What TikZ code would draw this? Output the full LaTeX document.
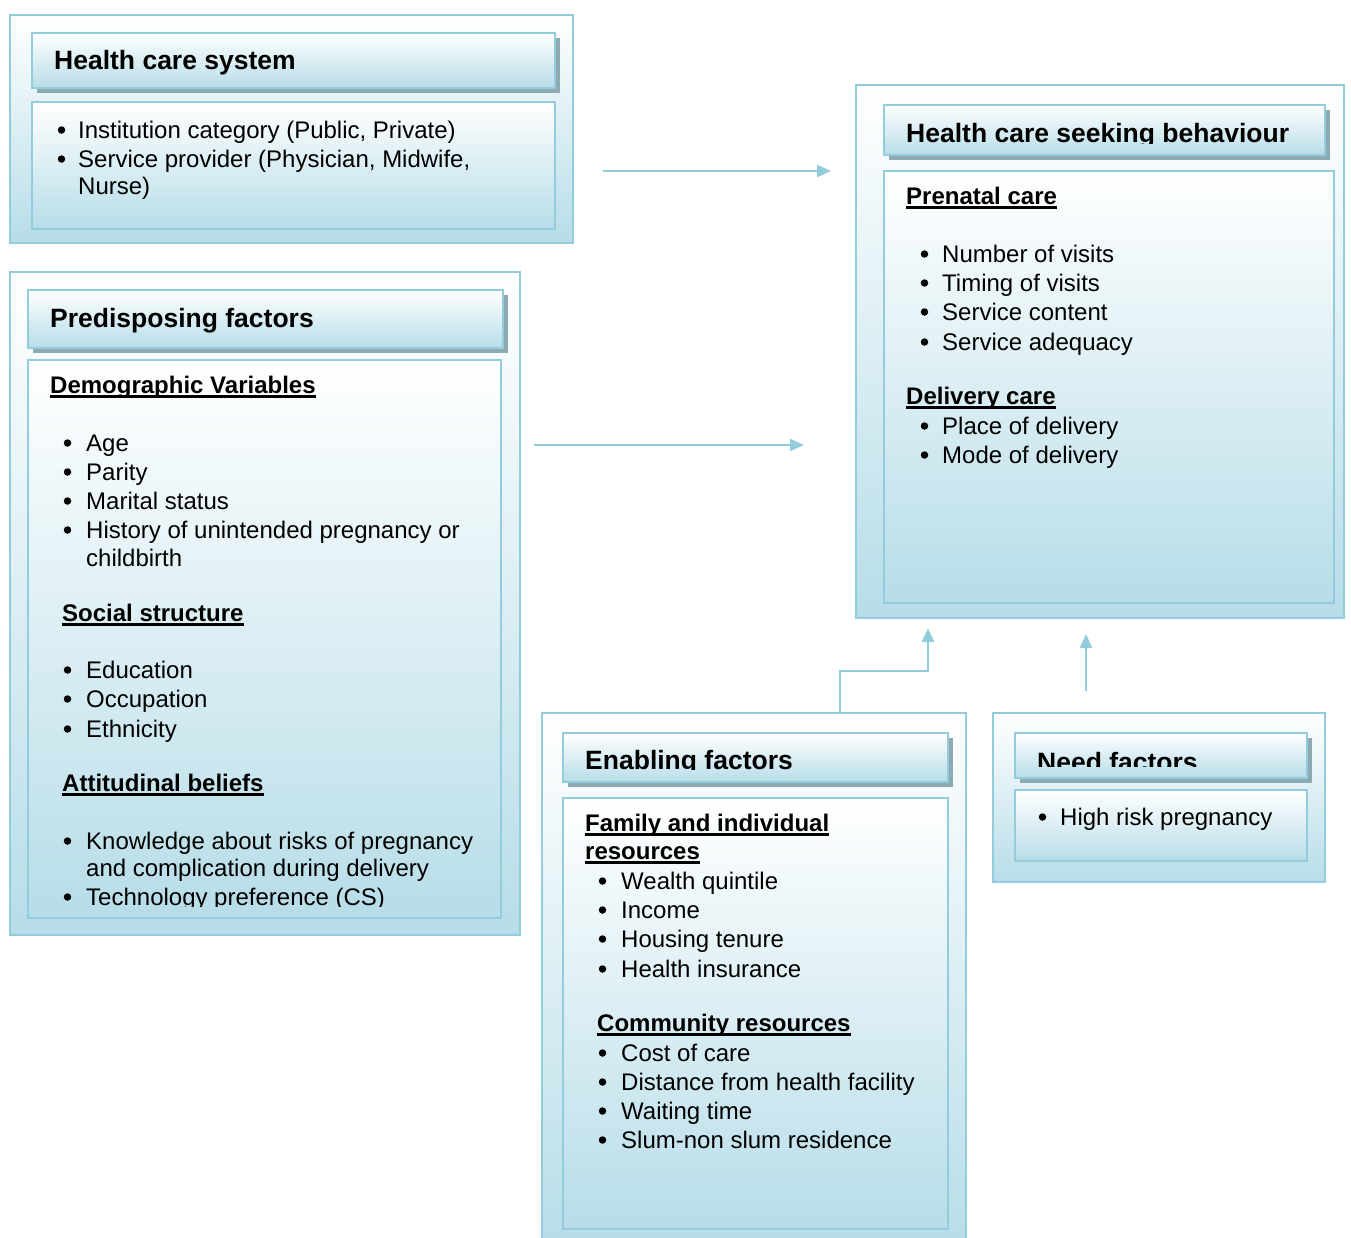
\documentclass[tikz,border=0pt]{standalone}
\usepackage{fontspec}
\setmainfont{Liberation Sans}
\usetikzlibrary{arrows.meta,shadows}
\definecolor{bordc}{HTML}{93CDDD}
\definecolor{gradc}{HTML}{B7DDE8}
\definecolor{shadc}{HTML}{8DA9B2}
\definecolor{arrc}{HTML}{93CDDD}
\newcommand\bodyfont{\fontsize{24}{29}\selectfont}
\newcommand\headfont{\fontsize{26.5}{32}\selectfont\bfseries}
\newcommand\myul[1]{\setbox0\hbox{#1}\rlap{\rule[-5pt]{\wd0}{3pt}}\box0}
\newcommand\bul[5]{\node[bulsty] (#1b) at (#2,#4) {}; \node[txt] (#1) at (#3,#4) {#5};}
\begin{document}
\begin{tikzpicture}[x=1pt,y=-1pt,
  outerbox/.style={draw=bordc,line width=2.5pt,top color=white,bottom color=gradc,inner sep=0,outer sep=0},
  innerbox/.style={draw=bordc,line width=2.5pt,top color=white,bottom color=gradc,inner sep=0,outer sep=0},
  titlebox/.style={draw=bordc,line width=2.5pt,top color=white,bottom color=gradc,inner sep=0,outer sep=0,
     drop shadow={shadow xshift=5pt,shadow yshift=-5pt,fill=shadc,opacity=1}},
  txt/.style={anchor=base west,inner sep=0,font=\bodyfont},
  bulsty/.style={circle,fill=black,inner sep=0,minimum size=7.5pt,xshift=4.5pt,yshift=8pt},
  head/.style={anchor=base west,inner sep=0,font=\headfont},
  sub/.style={anchor=base west,inner sep=0,font=\bodyfont\bfseries},
  conn/.style={draw=arrc,line width=2.5pt,-{Triangle[length=14pt,width=12pt]}}]
\clip (0,0) rectangle (1351,1237);
\fill[white] (0,0) rectangle (1351,1237);

% ---------- Health care system ----------
\node[outerbox,minimum width=563pt,minimum height=228pt] (hcs) at (291.5,129) {};
\node[titlebox,minimum width=523pt,minimum height=55pt] (hcstbox) at (293.5,60.5) {};
\node[innerbox,minimum width=523pt,minimum height=127pt] (hcsc) at (293.5,165.5) {};
\node[head] (hcst) at (54,69) {Health care system};
\bul{h1}{57}{78}{138}{Institution category (Public, Private)}
\bul{h2}{57}{78}{167}{Service provider (Physician, Midwife,}
\node[txt] (h3) at (78,194) {Nurse)};

% ---------- Predisposing factors ----------
\node[outerbox,minimum width=510pt,minimum height=663pt] (pre) at (265,603.5) {};
\node[titlebox,minimum width=475pt,minimum height=58pt] (pretbox) at (265.5,319) {};
\node[innerbox,minimum width=473pt,minimum height=558pt] (prec) at (264.5,639) {};
\node[head] (pret) at (50,327) {Predisposing factors};
\node[sub] (demo) at (50,393) {\myul{Demographic Variables}};
\bul{p1}{63}{86}{451}{Age}
\bul{p2}{63}{86}{480}{Parity}
\bul{p3}{63}{86}{509}{Marital status}
\bul{p4}{63}{86}{538}{History of unintended pregnancy or}
\node[txt] (p4b2) at (86,566) {childbirth};
\node[sub] (soc) at (62,621) {\myul{Social structure}};
\bul{p5}{63}{86}{678}{Education}
\bul{p6}{63}{86}{707}{Occupation}
\bul{p7}{63}{86}{737}{Ethnicity}
\node[sub] (att) at (62,791) {\myul{Attitudinal beliefs}};
\bul{p8}{63}{86}{849}{Knowledge about risks of pregnancy}
\node[txt] (p8b2) at (86,876) {and complication during delivery};
\begin{scope}
\clip (28,880) rectangle (501,906);
\bul{p9}{63}{86}{905}{Technology preference (CS)}
\end{scope}

% ---------- Health care seeking behaviour ----------
\node[outerbox,minimum width=488pt,minimum height=533pt] (hcsb) at (1100,351.5) {};
\node[titlebox,minimum width=441pt,minimum height=50pt] (hcsbtbox) at (1104.5,130) {};
\node[innerbox,minimum width=450pt,minimum height=432pt] (hcsbc) at (1109,387) {};
\begin{scope}
\clip (884,105) rectangle (1325,143);
\node[head] (hcsbt) at (906,142) {Health care seeking behaviour};
\end{scope}
\node[sub] (pren) at (906,204) {\myul{Prenatal care}};
\bul{s1}{920}{942}{262}{Number of visits}
\bul{s2}{920}{942}{291}{Timing of visits}
\bul{s3}{920}{942}{320}{Service content}
\bul{s4}{920}{942}{350}{Service adequacy}
\node[sub] (deliv) at (906,404) {\myul{Delivery care}};
\bul{s5}{920}{942}{434}{Place of delivery}
\bul{s6}{920}{942}{463}{Mode of delivery}

% ---------- Enabling factors ----------
\node[outerbox,minimum width=424pt,minimum height=537pt] (enab) at (754,981.5) {};
\node[titlebox,minimum width=385pt,minimum height=49pt] (enabtbox) at (755.5,757.5) {};
\node[innerbox,minimum width=385pt,minimum height=431pt] (enabc) at (755.5,1013.5) {};
\begin{scope}
\clip (563,733) rectangle (948,769);
\node[head] (enabt) at (585,769) {Enabling factors};
\end{scope}
\node[sub] (fam1) at (585,831) {\myul{Family and individual}};
\node[sub] (fam2) at (585,859) {\myul{resources}};
\bul{e1}{598}{621}{889}{Wealth quintile}
\bul{e2}{598}{621}{918}{Income}
\bul{e3}{598}{621}{947}{Housing tenure}
\bul{e4}{598}{621}{977}{Health insurance}
\node[sub] (comm) at (597,1031) {\myul{Community resources}};
\bul{e5}{598}{621}{1061}{Cost of care}
\bul{e6}{598}{621}{1090}{Distance from health facility}
\bul{e7}{598}{621}{1119}{Waiting time}
\bul{e8}{598}{621}{1148}{Slum-non slum residence}

% ---------- Need factors ----------
\node[outerbox,minimum width=332pt,minimum height=169pt] (need) at (1159,797.5) {};
\node[titlebox,minimum width=292pt,minimum height=45pt] (needtbox) at (1161,755.5) {};
\node[innerbox,minimum width=292pt,minimum height=71pt] (needc) at (1161,825.5) {};
\begin{scope}
\clip (1015,733) rectangle (1307,766);
\node[head] (needt) at (1037,771) {Need factors};
\end{scope}
\bul{n1}{1038}{1060}{825}{High risk pregnancy}

% ---------- Connectors ----------
\coordinate (a1s) at (603,171);
\coordinate (a1e) at (831,171);
\coordinate (a2s) at (534,445);
\coordinate (a2e) at (804,445);
\coordinate (a3e) at (928,628);
\coordinate (a4s) at (1086,691);
\coordinate (a4e) at (1086,634);
\draw[conn] (a1s) -- (a1e);
\draw[conn] (a2s) -- (a2e);
\draw[conn] ([xshift=86pt]enab.north) -- ++(0,-42) -| (a3e);
\draw[conn] (a4s) -- (a4e);
\end{tikzpicture}
\end{document}
